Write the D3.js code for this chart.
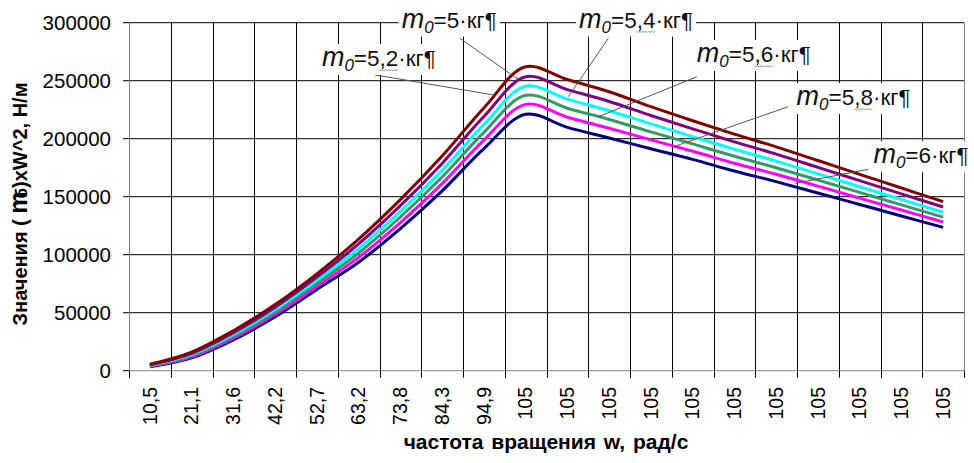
<!DOCTYPE html>
<html lang="ru">
  <head>
    <meta charset="UTF-8" />
    <title>Значения (mб)xW^2</title>
    <script src="https://cdn.jsdelivr.net/npm/d3@7"></script>
    <style>
      body { margin: 0; background: #fff; }
      svg { display: block; font-family: "Liberation Sans", Arial, sans-serif; }
    </style>
  </head>
  <body>
    <div id="chart"></div>
    <script>
      // x axis categories, as printed under the axis
      let categories = ["10,5", "21,1", "31,6", "42,2", "52,7", "63,2", "73,8", "84,3", "94,9",
        "105", "105", "105", "105", "105", "105", "105", "105", "105", "105", "105"];
      let yTicks = [0, 50000, 100000, 150000, 200000, 250000, 300000];

      // values, one array per curve (top curve first)
      let seriesTop = [5500, 16000, 34500, 57000, 83500, 113500, 147500, 185000, 226500, 262000,
        251000, 240500, 227600, 215500, 204000, 193000, 181200, 169300, 157500, 145700];
      let seriesSecond = [5000, 15000, 32800, 54800, 80700, 109300, 142300, 178700, 219100, 253400,
        242300, 232100, 220000, 208500, 197300, 186700, 175300, 163800, 152400, 141100];
      let seriesThird = [4600, 14000, 31200, 52700, 78000, 105300, 137300, 172700, 212100, 245200,
        234100, 224100, 212800, 201800, 190900, 180700, 169700, 158600, 147600, 136600];
      let seriesFourth = [4200, 13000, 29700, 50700, 75400, 101500, 132500, 167000, 205500, 237400,
        226300, 216600, 205900, 195500, 184900, 175000, 164400, 153700, 143000, 132400];
      let seriesFifth = [3800, 12000, 28200, 48700, 72800, 97700, 127700, 161300, 198800, 229600,
        218500, 209000, 199000, 189200, 178800, 169300, 159100, 148800, 138500, 128200];
      let seriesBottom = [3300, 11000, 26500, 46500, 70000, 93500, 122500, 155000, 191500, 221000,
        209800, 200600, 191400, 182200, 172100, 163000, 153200, 143300, 133400, 123600];

      // callout masses (m0, кг)
      let calloutMass = ["5", "5,4", "5,2", "5,6", "5,8", "6"];

      let width = 974;
      let height = 463;
      let plot = { left: 129, right: 964, top: 22.7, bottom: 370.7 };

      let svg = d3
        .select("#chart")
        .append("svg")
        .attr("width", width)
        .attr("height", height);

      let xBand = d3
        .scaleBand()
        .domain(d3.range(categories.length))
        .range([plot.left, plot.right]);
      let xLin = d3
        .scaleLinear()
        .domain([-0.5, categories.length - 0.5])
        .range([plot.left, plot.right]);
      let y = d3.scaleLinear().domain([0, 300000]).range([plot.bottom, plot.top]);

      // horizontal grid
      svg
        .append("g")
        .selectAll("line")
        .data(yTicks.filter((d) => d > 0))
        .enter()
        .append("line")
        .attr("x1", plot.left)
        .attr("x2", plot.right)
        .attr("y1", (d) => y(d))
        .attr("y2", (d) => y(d))
        .attr("stroke", "#000")
        .attr("stroke-width", 1);

      // vertical grid at category borders
      svg
        .append("g")
        .selectAll("line")
        .data(d3.range(1, categories.length))
        .enter()
        .append("line")
        .attr("x1", (d) => Math.round(xBand(d)) + 0.5)
        .attr("x2", (d) => Math.round(xBand(d)) + 0.5)
        .attr("y1", plot.top)
        .attr("y2", plot.bottom)
        .attr("stroke", "#000");

      // right border
      svg
        .append("line")
        .attr("x1", plot.right + 0.5)
        .attr("x2", plot.right + 0.5)
        .attr("y1", plot.top)
        .attr("y2", plot.bottom)
        .attr("stroke", "#808080");

      // y axis
      let yAxis = svg.append("g");
      yAxis
        .append("line")
        .attr("x1", plot.left + 0.5)
        .attr("x2", plot.left + 0.5)
        .attr("y1", plot.top)
        .attr("y2", plot.bottom)
        .attr("stroke", "#808080");
      yAxis
        .selectAll(".tick")
        .data(yTicks)
        .enter()
        .append("line")
        .attr("x1", plot.left - 6)
        .attr("x2", plot.left)
        .attr("y1", (d) => y(d))
        .attr("y2", (d) => y(d))
        .attr("stroke", "#000");
      yAxis
        .selectAll("text")
        .data(yTicks)
        .enter()
        .append("text")
        .attr("x", 111)
        .attr("y", (d) => y(d))
        .attr("dy", "0.35em")
        .attr("text-anchor", "end")
        .attr("font-size", "20.5px")
        .text((d) => d);

      // x axis
      let xAxis = svg.append("g");
      xAxis
        .append("line")
        .attr("x1", plot.left)
        .attr("x2", plot.right)
        .attr("y1", plot.bottom)
        .attr("y2", plot.bottom)
        .attr("stroke", "#808080");
      xAxis
        .selectAll(".tick")
        .data(d3.range(categories.length + 1))
        .enter()
        .append("line")
        .attr("x1", (d) => Math.round(xLin(d - 0.5)) + 0.5)
        .attr("x2", (d) => Math.round(xLin(d - 0.5)) + 0.5)
        .attr("y1", plot.bottom)
        .attr("y2", plot.bottom + 7)
        .attr("stroke", "#000");
      xAxis
        .selectAll("text")
        .data(categories)
        .enter()
        .append("text")
        .attr("transform", (d, i) => `translate(${xLin(i)},387) rotate(-90)`)
        .attr("dy", "0.35em")
        .attr("text-anchor", "end")
        .attr("font-size", "19.5px")
        .text((d) => d);

      // axis titles
      svg
        .append("text")
        .attr("x", 546)
        .attr("y", 449)
        .attr("text-anchor", "middle")
        .attr("font-size", "21px")
        .attr("font-weight", "bold")
        .attr("word-spacing", "2px")
        .text("частота вращения w, рад/с");

      let yTitle = svg
        .append("text")
        .attr("transform", "translate(27,204) rotate(-90)")
        .attr("text-anchor", "middle")
        .attr("font-size", "20px")
        .attr("font-weight", "bold");
      yTitle.append("tspan").text("Значения ( ");
      yTitle.append("tspan").attr("font-size", "25px").text("m");
      yTitle.append("tspan").attr("dx", -7).attr("font-size", "17px").text("б");
      yTitle.append("tspan").text(")xW^2, Н/м");

      // curves
      let series = [seriesBottom, seriesFifth, seriesFourth, seriesThird, seriesSecond, seriesTop];
      let colors = ["#000080", "#ff00ff", "#339966", "#00ffff", "#800080", "#800000"];
      let line = d3
        .line()
        .x((d, i) => xLin(i))
        .y((d) => y(d))
        .curve(d3.curveCatmullRom.alpha(0.5));

      svg
        .append("g")
        .selectAll("path")
        .data(series)
        .enter()
        .append("path")
        .attr("d", (d) => line(d))
        .attr("fill", "none")
        .attr("stroke", (d, i) => colors[i])
        .attr("stroke-width", 3)
        .attr("stroke-linejoin", "round");

      // callouts: label start, leader line from / to, in chart units (category index, value)
      let callouts = [
        { label: [6.03, 295800], from: [7.43, 286500], to: [8.82, 251200] },
        { label: [10.28, 295800], from: [10.98, 286500], to: [10.02, 236200] },
        { label: [4.12, 262700], from: [5.39, 255000], to: [8.23, 237700] },
        { label: [13.1, 266100], from: [13.1, 253400], to: [10.74, 218900] },
        { label: [15.49, 229000], from: [15.29, 227600], to: [12.52, 192800] },
        { label: [17.33, 178800], from: [17.21, 173600], to: [15.45, 161500] },
      ];

      let notes = svg.append("g");
      callouts.forEach(function (c) {
        notes
          .append("line")
          .attr("x1", xLin(c.from[0]))
          .attr("y1", y(c.from[1]))
          .attr("x2", xLin(c.to[0]))
          .attr("y2", y(c.to[1]))
          .attr("stroke", "#555")
          .attr("stroke-width", 1);
      });

      callouts.forEach(function (c, k) {
        let g = notes.append("g");
        let t = g
          .append("text")
          .attr("x", xLin(c.label[0]))
          .attr("y", y(c.label[1]))
          .attr("font-family", "'Liberation Sans', Arial, sans-serif")
          .attr("fill", "#111");
        t.append("tspan").attr("font-style", "italic").attr("font-size", "27px").text("m");
        t.append("tspan")
          .attr("font-style", "italic")
          .attr("font-size", "17px")
          .attr("dy", 5)
          .text("0");
        t.append("tspan")
          .attr("font-size", "22.5px")
          .attr("dy", -5)
          .text("=" + calloutMass[k] + "·кг¶");

        let b = t.node().getBBox();
        g.insert("rect", "text")
          .attr("x", b.x - 3)
          .attr("y", b.y + 2)
          .attr("width", b.width + 6)
          .attr("height", b.height - 2)
          .attr("fill", "#fff");

        // spell-check squiggle under ",d"
        let ci = calloutMass[k].indexOf(",");
        if (ci >= 0) {
          let node = t.node();
          let x0 = node.getStartPositionOfChar(3 + ci).x;
          let x1 = node.getEndPositionOfChar(4 + ci).x;
          let yb = y(c.label[1]) + 4;
          let pts = d3.range(x0, x1, 1.5).map((px, j) => [px, yb + (j % 2 ? 1 : -0.5)]);
          g.append("path")
            .attr("d", d3.line()(pts))
            .attr("fill", "none")
            .attr("stroke", "#5aa05a")
            .attr("stroke-width", 0.9);
        }
      });
    </script>
  </body>
</html>
